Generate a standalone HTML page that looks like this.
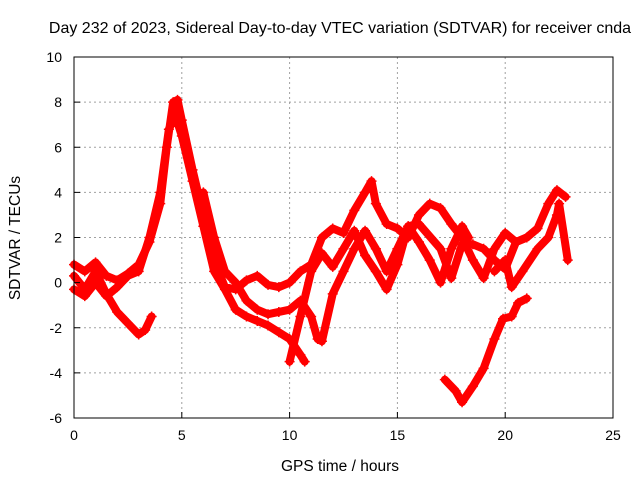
<!DOCTYPE html>
<html><head><meta charset="utf-8"><style>
body{margin:0;background:#fff}
svg{display:block;font-family:"Liberation Sans",sans-serif}
</style></head><body>
<svg id="chart" width="640" height="480">
<text x="340" y="33" font-size="16" text-anchor="middle">Day 232 of 2023, Sidereal Day-to-day VTEC variation (SDTVAR) for receiver cnda</text>
<text x="340" y="471" font-size="15.5" text-anchor="middle">GPS time / hours</text>
<text transform="translate(20,238) rotate(-90)" font-size="15.5" text-anchor="middle">SDTVAR / TECUs</text>
<g id="grid"></g><g id="series"></g><g id="axes"></g>
</svg>
<script>
const xTicks=[0,5,10,15,20,25];
const yTicks=[-6,-4,-2,0,2,4,6,8,10];
const track1=[[0,0.8],[0.5,0.5],[1,0.9],[1.5,0.3],[2,0.1],[2.5,0.4],[3,0.8],[3.5,1.8],[4,3.5],[4.3,6],[4.6,8],[4.8,8.1],[5,7.2],[5.5,5],[6,3],[6.5,1],[7,-0.2],[7.5,-0.3],[8,0.1],[8.5,0.3],[9,-0.1],[9.5,-0.2],[10,0],[10.5,0.5],[11,0.8],[11.5,2.0],[12,2.4],[12.5,2.2],[13,3.2],[13.5,4],[13.8,4.5],[14,3.5],[14.5,2.6],[15,2.4],[15.5,2.0],[16,3],[16.5,3.5],[17,3.3],[17.5,2.6],[18,2],[18.5,1.0],[19,0.2],[19.5,1.5],[20,2.2],[20.5,1.8],[21,2.0],[21.5,2.4],[22,3.5],[22.4,4.1],[22.8,3.8]];
const track2=[[0,-0.3],[0.5,-0.6],[1,0],[1.5,-0.6],[2,-0.2],[2.5,0.3],[3,0.5],[3.5,2],[4,4],[4.4,6.8],[4.7,7.4],[5,6.5],[5.5,4.5],[6,2.5],[6.5,0.5],[7,-0.3],[7.5,-1.2],[8,-1.5],[8.5,-1.7],[9,-1.9],[9.5,-2.2],[10,-2.5],[10.5,-3.2],[10.7,-3.5]];
const track3=[[0,0.3],[0.5,-0.3],[1,0.5],[1.5,-0.5],[2,-1.3],[2.5,-1.8],[3,-2.3],[3.3,-2.1],[3.6,-1.5]];
const track4=[[6,4],[6.5,2],[7,0.5],[7.5,0],[8,-0.8],[8.5,-1.2],[9,-1.4],[9.5,-1.3],[10,-1.2],[10.5,-0.8],[11,-1.5],[11.3,-2.5],[11.5,-2.6],[12,-0.5],[12.5,0.5],[13,1.5],[13.5,2.3],[14,1.5],[14.5,0.5],[15,1.5],[15.5,2.5],[16,1.8],[16.5,1.0],[17,0],[17.5,1.5],[18,2.5],[18.3,2.0]];
const track5=[[10,-3.5],[10.5,-1.5],[11,0.5],[11.5,1.3],[12,0.7],[12.5,1.5],[13,2.3],[13.5,1.2],[14,0.5],[14.5,-0.3],[15,0.8],[15.5,2.5],[16,2.6],[17,1.5],[17.5,0.2],[18,1.7],[18.5,1.7],[19,1.5],[19.5,1.0],[20,0.6],[20.5,1.8],[21,2.0]];
const track6=[[19.5,0.5],[20,1.0],[20.3,-0.2],[20.8,0.5],[21.5,1.5],[22,2.0],[22.4,3.0],[22.5,3.5],[22.9,1.0]];
const track7=[[17.2,-4.3],[17.7,-4.8],[18,-5.3],[18.5,-4.6],[19,-3.8],[19.5,-2.5],[19.9,-1.6],[20.3,-1.5],[20.6,-0.9],[21,-0.7]];
const tracks=[track1,track2,track3,track4,track5,track6,track7];
const X0=74,X1=613,Y0=418,Y1=57;
const xs=h=>X0+(h-0)/(25-0)*(X1-X0);
const ys=v=>Y0-(v+6)/(16)*(Y0-Y1);
const NS="http://www.w3.org/2000/svg";
function mk(tag,attrs,parent){const e=document.createElementNS(NS,tag);for(const k in attrs)e.setAttribute(k,attrs[k]);parent.appendChild(e);return e;}
const grid=document.getElementById('grid'),axes=document.getElementById('axes'),ser=document.getElementById('series');
xTicks.forEach(t=>{const x=xs(t);
 if(t>0&&t<25){const l=mk('line',{x1:x,x2:x,y1:Y1,y2:Y0,stroke:'#a0a0a0','stroke-dasharray':'2,3'},grid);
 
 }
 const tk=mk('line',{x1:x,x2:x,y1:Y0,y2:Y0-6,stroke:'#000'},axes);
 
 
 const tx=mk('text',{x:x,y:Y0+22,'font-size':14,'text-anchor':'middle'},axes);tx.textContent=t;
 
 
});
yTicks.forEach(t=>{const y=ys(t);
 if(t>-6&&t<10){const l=mk('line',{x1:X0,x2:X1,y1:y,y2:y,stroke:'#a0a0a0','stroke-dasharray':'2,3'},grid);
 
 }
 const tk=mk('line',{x1:X0,x2:X0+6,y1:y,y2:y,stroke:'#000'},axes);
 
 
 const tx=mk('text',{x:X0-12,y:y+5,'font-size':14,'text-anchor':'end'},axes);tx.textContent=t;
 
 
});
const fr=mk('rect',{x:X0,y:Y1,width:X1-X0,height:Y0-Y1,fill:'none',stroke:'#000'},axes);


tracks.forEach(tr=>{
 const p=mk('polyline',{points:tr.map(d=>xs(d[0])+','+ys(d[1])).join(' '),fill:'none',stroke:'#f00','stroke-width':8,'stroke-linejoin':'round','stroke-linecap':'round'},ser);
 
 
 tr.forEach(d=>{const x=xs(d[0]),y=ys(d[1]);
  const m=mk('path',{d:`M${x-5},${y}H${x+5}M${x},${y-5}V${y+5}`,stroke:'#f00','stroke-width':1.5},ser);
  
  
 });
});
</script>
</body></html>
